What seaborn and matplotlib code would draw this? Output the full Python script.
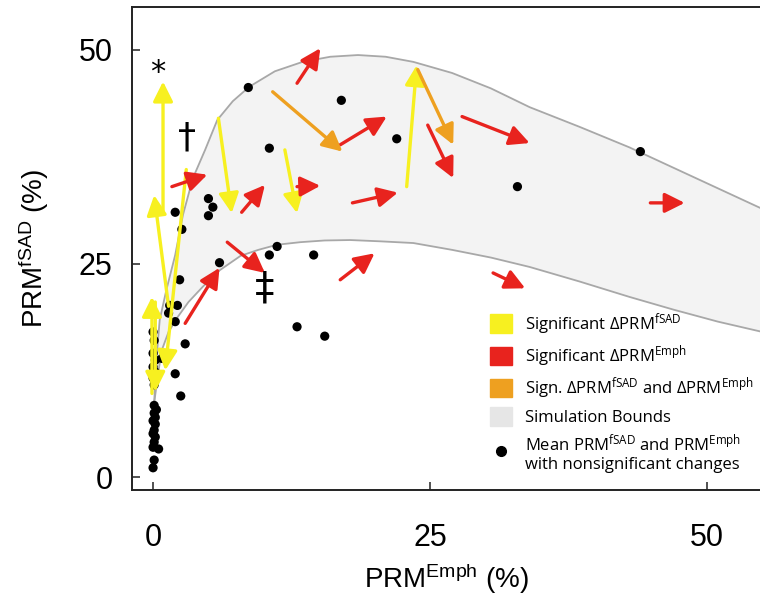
import numpy as np
import matplotlib
matplotlib.use("Agg")
import matplotlib.pyplot as plt
import seaborn as sns
from matplotlib.patches import Patch
from matplotlib.lines import Line2D

# simulation bounds
upper_x = [0.1, 0.3, 0.6, 1.2, 2.0, 2.7, 3.6, 4.7, 5.8, 7.2, 8.7, 11.0, 13.5, 16.0, 18.5,
           21.0, 23.5, 27.0, 30.5, 34.0, 38.5, 43.0, 47.0, 51.0, 55.0]
upper_y = [8.7, 13.7, 18.4, 21.9, 26.0, 30.7, 35.0, 38.3, 41.8, 44.0, 45.7, 47.5, 48.6, 49.2, 49.4,
           49.2, 48.6, 47.3, 45.5, 43.3, 41.0, 38.6, 36.2, 33.8, 31.4]
lower_x = [0.1, 0.5, 0.8, 1.4, 2.2, 3.2, 4.5, 6.0, 7.9, 9.5, 11.2, 13.3, 15.5, 17.8, 20.5,
           23.5, 27.0, 30.5, 34.0, 38.5, 43.0, 47.0, 51.0, 55.0]
lower_y = [8.7, 12.5, 14.9, 17.0, 18.7, 20.5, 22.3, 24.2, 25.9, 26.6, 27.2, 27.5, 27.7, 27.75, 27.6,
           27.4, 26.6, 25.7, 24.6, 22.9, 21.1, 19.6, 18.2, 17.0]

# mean PRM values with nonsignificant changes
dot_x = [8.6, 17.0, 10.5, 22.0, 32.9, 44.0, 2.0, 2.6, 5.0, 5.4, 5.0, 11.2, 10.5, 14.5, 6.0,
         2.4, 1.5, 2.2, 1.4, 2.0, 2.9, 0.8, 2.0, 2.5, 13.0, 15.5,
         0.0, 0.1, 0.0, 0.2, 0.0, 0.2, 0.0, 0.1, 0.1, 0.3, 0.1, 0.2, 0.0, 0.2, 0.1, 0.0,
         0.2, 0.1, 0.0, 0.5, 0.1, 0.0]
dot_y = [45.6, 44.1, 38.5, 39.6, 34.0, 38.1, 31.0, 29.0, 32.6, 31.6, 30.6, 27.0, 26.0, 26.0, 25.1,
         23.1, 20.1, 20.1, 19.2, 18.2, 15.6, 13.9, 12.1, 9.5, 17.6, 16.5,
         17.0, 16.0, 14.5, 13.7, 12.9, 12.3, 11.6, 10.8, 8.4, 7.9, 7.5, 7.0, 6.6, 6.2, 5.5, 5.1,
         4.7, 4.1, 3.5, 3.3, 2.0, 1.1]

# arrows: (x_from, y_from, x_to, y_to)
yellow_arrows = [(0.9, 30.9, 0.9, 46.3), (1.4, 20.0, 0.1, 33.0), (3.0, 36.0, 1.1, 12.5),
                 (-0.1, 9.8, -0.1, 21.1), (0.2, 20.5, 0.2, 10.0), (5.9, 42.0, 7.1, 30.9),
                 (11.9, 38.3, 13.0, 30.9), (22.9, 34.0, 23.8, 48.2)]
orange_arrows = [(10.8, 45.1, 17.1, 38.1), (23.9, 47.7, 27.1, 38.9)]
red_arrows = [(13.0, 46.1, 15.1, 50.2), (1.7, 34.0, 4.9, 35.4), (8.0, 31.0, 10.1, 34.2),
              (13.0, 34.0, 15.1, 34.1), (6.7, 27.5, 10.1, 23.9), (16.9, 38.9, 21.1, 42.2),
              (18.0, 32.1, 22.1, 33.3), (24.8, 41.2, 27.1, 35.0), (27.9, 42.2, 34.0, 39.1),
              (44.9, 32.1, 48.0, 32.1), (16.9, 23.1, 20.0, 26.2), (30.7, 23.9, 33.6, 22.1),
              (2.9, 18.0, 6.0, 24.5)]

marks = ["*", "\u2020", "\u2021"]
mark_x = [0.45, 3.1, 10.1]
mark_y = [47.4, 39.7, 22.1]

YELLOW = "#f7f020"
RED = "#e8231e"
ORANGE = "#eea020"

sns.set_style("ticks")
plt.rcParams['font.family'] = ['Liberation Sans', 'DejaVu Sans']
plt.rcParams['mathtext.default'] = 'regular'
plt.rcParams['text.color'] = 'black'
plt.rcParams['axes.labelcolor'] = 'black'
plt.rcParams['xtick.labelcolor'] = 'black'
plt.rcParams['ytick.labelcolor'] = 'black'

fig = plt.figure(figsize=(7.6, 5.99), dpi=100)
ax = fig.add_axes([0.1737, 0.182, 0.8263, 0.806])

ax.fill(upper_x + lower_x[::-1], upper_y + lower_y[::-1], color="#f3f3f3", lw=0, zorder=0)
sns.lineplot(x=upper_x, y=upper_y, sort=False, color="#a8a8a8", lw=1.3, ax=ax, zorder=1)
sns.lineplot(x=lower_x, y=lower_y, sort=False, color="#a8a8a8", lw=1.3, ax=ax, zorder=1)

sns.scatterplot(x=dot_x, y=dot_y, color="black", s=44, edgecolor="none", ax=ax, zorder=3)

def draw_arrows(arrows, c):
    for x0, y0, x1, y1 in arrows:
        ax.annotate("", xy=(x1, y1), xytext=(x0, y0), zorder=4,
                    arrowprops=dict(arrowstyle="-|>,head_length=0.6,head_width=0.3",
                                    color=c, lw=2.4, mutation_scale=20,
                                    shrinkA=0, shrinkB=0))

draw_arrows(yellow_arrows, YELLOW)
draw_arrows(red_arrows, RED)
draw_arrows(orange_arrows, ORANGE)

for m, mx, my, fs in zip(marks, mark_x, mark_y, [22, 26, 28]):
    ax.text(mx, my, m, fontsize=fs, ha="center", va="center", color="black",
            family=['DejaVu Sans'], zorder=5)

ax.set_xlim(-1.9, 54.8)
ax.set_ylim(-1.5, 55.0)
ax.set_xticks([0, 25, 50])
ax.set_yticks([0, 25, 50])
ax.tick_params(direction="in", length=6, width=1.2, labelsize=22, color="#333333")
ax.tick_params(axis="x", pad=24)
ax.tick_params(axis="y", pad=14)
for s in ["left", "top", "bottom"]:
    ax.spines[s].set_linewidth(1.4)
    ax.spines[s].set_color("#222222")
ax.spines["right"].set_visible(False)

ax.set_xlabel("PRM$^{Emph}$ (%)", fontsize=20, labelpad=6)
ax.set_ylabel("PRM$^{fSAD}$ (%)", fontsize=20, labelpad=20)

handles = [Patch(color=YELLOW), Patch(color=RED), Patch(color=ORANGE), Patch(color="#e6e6e6"),
           Line2D([], [], marker="o", color="black", ls="", markersize=7)]
labels = ["Significant \u0394PRM$^{fSAD}$", "Significant \u0394PRM$^{Emph}$",
          "Sign. \u0394PRM$^{fSAD}$ and \u0394PRM$^{Emph}$", "Simulation Bounds",
          "Mean PRM$^{fSAD}$ and PRM$^{Emph}$\nwith nonsignificant changes"]
ax.legend(handles, labels, loc="upper left", bbox_to_anchor=(0.56, 0.385), frameon=False,
          prop={"family": "Open Sans", "size": 12}, handlelength=1.3, handleheight=1.3,
          handletextpad=0.8, labelspacing=0.38, borderaxespad=0)

fig.savefig("out.png", dpi=100)
